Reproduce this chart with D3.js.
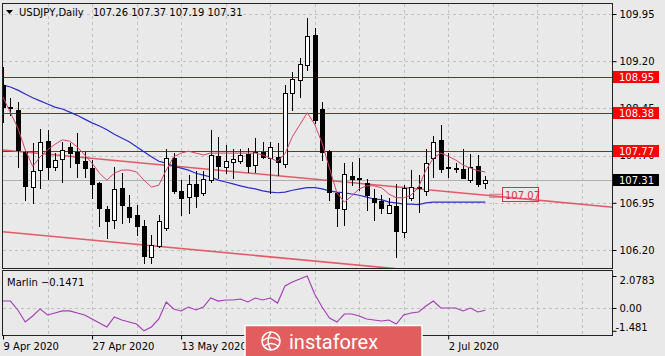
<!DOCTYPE html>
<html><head><meta charset="utf-8">
<script src="https://cdn.jsdelivr.net/npm/d3@7"></script>
<style>
body{margin:0;background:#e9e9e9;}
svg{display:block;font-family:"DejaVu Sans",sans-serif;}
</style>
</head><body>
<svg id="c" width="665" height="356"></svg>
<script>
// ---------- DATA ----------
const symbol = "USDJPY,Daily";
const opens  = [108.82,108.47,108.42,107.76,107.20,107.47,107.93,107.52,107.65,107.84,107.76,107.61,107.50,107.26,106.85,106.68,107.19,106.88,106.76,106.58,106.09,106.26,106.55,107.66,107.14,107.04,107.25,107.11,107.31,107.69,107.52,107.60,107.62,107.73,107.55,107.76,107.66,107.68,107.57,108.69,108.90,109.14,109.62,108.44,107.77,107.11,106.85,107.38,107.34,107.26,107.03,106.98,106.79,106.90,106.49,107.03,107.20,107.14,107.66,107.95,107.52,107.50,107.49,107.31,107.53,107.26];
const highs  = [109.11,108.62,108.55,107.79,107.90,108.12,108.11,107.74,107.92,107.90,108.06,107.76,107.63,107.28,106.90,107.52,107.42,107.07,106.92,106.68,106.44,106.76,107.80,107.74,107.31,107.39,107.46,107.46,108.11,108.00,107.87,107.80,107.80,107.82,107.98,107.92,107.92,107.90,108.82,109.03,109.25,109.89,109.73,108.55,107.79,107.12,107.58,107.60,107.66,107.33,107.17,107.07,107.03,107.25,107.23,107.47,107.39,107.80,108.01,108.19,107.74,107.58,107.80,107.73,107.71,107.37];
const lows   = [108.23,108.34,107.52,107.00,106.95,107.19,107.33,107.47,107.28,107.52,107.36,107.36,107.03,106.58,106.39,106.55,106.63,106.64,106.44,105.99,105.99,106.25,106.52,107.10,106.76,106.79,106.88,107.07,107.28,107.34,107.42,107.34,107.58,107.44,107.44,107.66,107.11,107.39,107.52,108.42,108.63,109.06,108.22,107.63,107.00,106.58,106.60,107.23,107.15,106.84,106.68,106.79,106.78,106.09,106.41,107.00,106.80,107.07,107.36,107.44,107.36,107.44,107.34,107.28,107.22,107.19];
const closes = [108.47,108.46,107.79,107.22,107.46,107.92,107.52,107.63,107.79,107.74,107.58,107.50,107.25,106.87,106.66,107.17,106.92,106.72,106.58,106.10,106.28,106.66,107.66,107.13,107.03,107.25,107.06,107.33,107.71,107.53,107.61,107.65,107.71,107.53,107.76,107.68,107.84,107.60,108.69,108.92,109.16,109.60,108.27,107.76,107.12,106.87,107.41,107.33,107.33,107.07,106.96,106.87,106.92,106.50,107.19,107.20,107.19,107.58,107.92,107.49,107.51,107.49,107.35,107.52,107.25,107.31];
const maFast = [108.63,108.38,108.14,107.79,107.53,107.68,107.79,107.88,107.95,107.93,107.84,107.71,107.58,107.42,107.31,107.42,107.47,107.47,107.44,107.31,107.20,107.23,107.47,107.68,107.74,107.77,107.74,107.71,107.74,107.74,107.74,107.74,107.74,107.74,107.74,107.71,107.66,107.61,107.73,108.00,108.19,108.38,108.20,107.90,107.50,107.11,106.96,107.06,107.17,107.22,107.22,107.19,107.09,107.03,107.03,107.07,107.20,107.47,107.66,107.74,107.69,107.63,107.55,107.50,107.46,107.44];
const maSlow = [108.82,108.79,108.74,108.68,108.62,108.57,108.52,108.47,108.44,108.39,108.34,108.28,108.22,108.17,108.11,108.04,107.98,107.92,107.84,107.76,107.68,107.61,107.58,107.53,107.50,107.47,107.42,107.39,107.36,107.31,107.28,107.25,107.22,107.19,107.17,107.14,107.12,107.11,107.12,107.15,107.17,107.19,107.19,107.17,107.14,107.12,107.11,107.09,107.07,107.04,107.01,107.00,106.96,106.95,106.93,106.93,106.92,106.95,106.96,106.96,106.96,106.96,106.96,106.96,106.96,106.96];
const marlin = [0.45,0.45,-0.13,-0.91,-0.52,-0.06,-0.45,-0.32,-0.19,-0.19,-0.32,-0.45,-0.71,-0.97,-1.23,-0.58,-0.78,-0.91,-1.04,-1.481,-1.23,-0.71,0.39,-0.06,-0.19,0.06,-0.13,0.06,0.65,0.45,0.52,0.52,0.58,0.39,0.65,0.52,0.65,0.32,1.43,1.69,1.88,2.0783,0.91,0.06,-0.65,-0.91,-0.39,-0.39,-0.52,-0.71,-0.78,-0.84,-0.78,-1.04,-0.45,-0.32,-0.26,0.13,0.45,0.00,0.00,0.00,-0.19,0.00,-0.26,-0.1471];
const priceTicks = [109.95,109.20,108.45,107.70,106.95,106.20];
const marlinTicks = [2.0783,0.00,-1.481];
const marlinTickLabels = ["2.0783","0.00","-1.481"];
// labels 29 May / 16 Jun sit under the watermark in the reference, so only visible ones are listed
const dateTickIdx = [0,12,24,60];
const dateTickLabels = ["9 Apr 2020","27 Apr 2020","13 May 2020","2 Jul 2020"];
const levels = [108.95,108.38,107.77];
const channelUpper = [[0,107.79],[65,107.07]];
const channelLower = [[0,106.49],[65,105.77]];
const trendLabel = "107.07";
const lastBid = 107.31;

// ---------- LAYOUT ----------
const svg = d3.select("#c");
const F = {l:2.5, r:612.5, t:3.5, b:268.5};
const I = {t:270.5, b:335.5};
const x = d3.scaleLinear().domain([0,65]).range([3,485.3]);
const y = d3.scaleLinear().domain([106.20,109.95]).range([250,14]);
const yi = d3.scaleLinear().domain([-1.481,2.0783]).range([330.8,276]);
const n = opens.length;

svg.append("rect").attr("width",665).attr("height",356).attr("fill","#e9e9e9");

const defs = svg.append("defs");
defs.append("clipPath").attr("id","cm").append("rect")
  .attr("x",F.l).attr("y",F.t).attr("width",F.r-F.l).attr("height",F.b-F.t);
defs.append("clipPath").attr("id","ci").append("rect")
  .attr("x",F.l).attr("y",I.t).attr("width",F.r-F.l).attr("height",I.b-I.t);

const gridC = "#c2c2c2";
const vIdx = d3.range(0,90,6).filter(i=>x(i)<F.r-2 && i>0);
[[F.t,F.b],[I.t,I.b]].forEach(([t,b])=>{
  svg.append("g").selectAll("line").data(vIdx).join("line")
    .attr("x1",d=>Math.round(x(d))+0.5).attr("x2",d=>Math.round(x(d))+0.5)
    .attr("y1",t).attr("y2",b)
    .attr("stroke",gridC).attr("stroke-dasharray","3,3").attr("shape-rendering","crispEdges");
});
svg.append("g").selectAll("line").data(priceTicks).join("line")
  .attr("x1",F.l).attr("x2",F.r).attr("y1",d=>Math.round(y(d))+0.5).attr("y2",d=>Math.round(y(d))+0.5)
  .attr("stroke",gridC).attr("stroke-dasharray","3,3").attr("shape-rendering","crispEdges");
svg.append("line").attr("x1",F.l).attr("x2",F.r).attr("y1",Math.round(yi(0))+0.5).attr("y2",Math.round(yi(0))+0.5)
  .attr("stroke",gridC).attr("stroke-dasharray","3,3").attr("shape-rendering","crispEdges");

const main = svg.append("g").attr("clip-path","url(#cm)");

main.append("line").attr("x1",F.l).attr("x2",F.r)
  .attr("y1",Math.round(y(lastBid))+0.5).attr("y2",Math.round(y(lastBid))+0.5)
  .attr("stroke","#b0b0b0").attr("shape-rendering","crispEdges");

main.selectAll(".lvl").data(levels).join("line")
  .attr("x1",F.l).attr("x2",F.r).attr("y1",d=>Math.round(y(d))+0.5).attr("y2",d=>Math.round(y(d))+0.5)
  .attr("stroke","#e00000").attr("stroke-width",1.2);

function chan(a){
  const [[b0,p0],[b1,p1]] = a;
  const s = (p1-p0)/(b1-b0);
  const bEnd = 90;
  return [[x(b0),y(p0)],[x(bEnd),y(p0+s*(bEnd-b0))]];
}
[channelUpper, channelLower].forEach(c=>{
  main.append("path").attr("d",d3.line()(chan(c)))
    .attr("stroke","#e24a5a").attr("stroke-width",1.6).attr("fill","none").attr("opacity",0.9);
});

main.append("path").datum(maSlow)
  .attr("d",d3.line().x((d,i)=>x(i)).y(d=>y(d)))
  .attr("fill","none").attr("stroke","#2c2cc8").attr("stroke-width",1.2);

const cg = main.append("g").attr("shape-rendering","crispEdges");
for(let i=0;i<n;i++){
  const cx = Math.round(x(i))+0.5;
  cg.append("line").attr("x1",cx).attr("x2",cx)
    .attr("y1",Math.round(y(highs[i]))).attr("y2",Math.round(y(lows[i]))+1)
    .attr("stroke","#000");
  const top = Math.round(y(Math.max(opens[i],closes[i])));
  const bot = Math.round(y(Math.min(opens[i],closes[i])));
  const bull = closes[i]>=opens[i];
  if(bot-top<1){
    cg.append("line").attr("x1",cx-2.5).attr("x2",cx+2.5).attr("y1",top+0.5).attr("y2",top+0.5).attr("stroke","#000");
  } else {
    cg.append("rect").attr("x",cx-2).attr("y",top+0.5).attr("width",4).attr("height",bot-top)
      .attr("fill",bull?"#fff":"#000").attr("stroke","#000");
  }
}

main.append("path").datum(maFast)
  .attr("d",d3.line().x((d,i)=>x(i)).y(d=>y(d)))
  .attr("fill","none").attr("stroke","#d2466a").attr("stroke-width",1);

const ty = y(+trendLabel);
svg.append("line").attr("x1",489).attr("x2",502).attr("y1",ty-1).attr("y2",ty-1).attr("stroke","#e07080");
svg.append("line").attr("x1",489).attr("x2",502).attr("y1",ty+2).attr("y2",ty+2).attr("stroke","#e07080");
svg.append("rect").attr("x",502.5).attr("y",Math.round(ty)-7.5).attr("width",36).attr("height",14)
  .attr("fill","none").attr("stroke","#e03040");
svg.append("text").attr("x",505).attr("y",Math.round(ty)+4).attr("font-size",10).attr("fill","#e03040").text(trendLabel);

svg.append("rect").attr("x",F.l).attr("y",F.t).attr("width",F.r-F.l).attr("height",F.b-F.t)
  .attr("fill","none").attr("stroke","#222").attr("shape-rendering","crispEdges");
svg.append("rect").attr("x",F.l).attr("y",I.t).attr("width",F.r-F.l).attr("height",I.b-I.t)
  .attr("fill","none").attr("stroke","#222").attr("shape-rendering","crispEdges");

const ax = svg.append("g").attr("transform",`translate(${F.r},0)`)
  .call(d3.axisRight(y).tickValues(priceTicks).tickSize(4).tickPadding(3).tickFormat(d3.format(".2f")));
ax.select(".domain").remove();
ax.selectAll("text").attr("font-size",10).attr("fill","#000").attr("font-family","DejaVu Sans");
ax.selectAll("line").attr("stroke","#000");

levels.forEach(l=>{
  const yy = Math.round(y(l));
  svg.append("rect").attr("x",613).attr("y",yy-6).attr("width",46).attr("height",12).attr("fill","#ff0000");
  svg.append("text").attr("x",619).attr("y",yy+4).attr("font-size",10).attr("fill","#fff").text(d3.format(".2f")(l));
});
{
  const yy = Math.round(y(lastBid));
  svg.append("rect").attr("x",613).attr("y",yy-6).attr("width",46).attr("height",12).attr("fill","#000");
  svg.append("text").attr("x",619).attr("y",yy+4).attr("font-size",10).attr("fill","#fff").text(d3.format(".2f")(lastBid));
}

const ig = svg.append("g").attr("clip-path","url(#ci)");
ig.append("path").datum(marlin)
  .attr("d",d3.line().x((d,i)=>x(i)).y(d=>yi(d)))
  .attr("fill","none").attr("stroke","#a23cb4").attr("stroke-width",1.1);
svg.append("text").attr("x",7).attr("y",286).attr("font-size",10).attr("fill","#000")
  .text("Marlin " + d3.format(".4f")(marlin[n-1]));
const iax = svg.append("g").attr("transform",`translate(${F.r},0)`)
  .call(d3.axisRight(yi).tickValues(marlinTicks).tickSize(4).tickPadding(3).tickFormat((d,i)=>marlinTickLabels[i]));
iax.select(".domain").remove();
iax.selectAll("text").attr("font-size",10).attr("fill","#000").attr("font-family","DejaVu Sans")
  .attr("dy",(d,i)=> i===0 ? "0.75em" : (i===2 ? "0em" : "0.32em"))
  .attr("dx",(d,i)=> i===2 ? -4 : 0);
iax.selectAll("line").attr("stroke","#000");

const dax = svg.append("g").attr("transform",`translate(0,${I.b})`)
  .call(d3.axisBottom(x).tickValues(dateTickIdx).tickSize(4).tickPadding(3).tickFormat((d,i)=>dateTickLabels[i]));
dax.select(".domain").remove();
dax.selectAll("text").attr("font-size",10).attr("fill","#000").attr("text-anchor","start").attr("font-family","DejaVu Sans");
dax.selectAll("line").attr("stroke","#000");

svg.append("path").attr("d","M6,10 L13,10 L9.5,14 Z").attr("fill","#000");
svg.append("text").attr("x",19).attr("y",16).attr("font-size",10).attr("fill","#000").text(symbol);
svg.append("text").attr("x",93).attr("y",16).attr("font-size",10).attr("fill","#000")
  .attr("xml:space","preserve")
  .text([opens[n-1],highs[n-1],lows[n-1],closes[n-1]].map(d3.format(".2f")).join(" "));

const lg = svg.append("g");
lg.append("rect").attr("x",245).attr("y",325.5).attr("width",177).attr("height",32)
  .attr("fill","#e25e5e").attr("stroke","#fff").attr("stroke-width",1.5);
const cx0=271, cy0=341;
lg.append("circle").attr("cx",cx0).attr("cy",cy0).attr("r",9).attr("fill","none").attr("stroke","#fff").attr("stroke-width",1.6);
lg.append("path").attr("d",`M${cx0-9},${cy0} Q${cx0},${cy0-7} ${cx0+9},${cy0}`).attr("fill","none").attr("stroke","#fff").attr("stroke-width",1.4);
lg.append("path").attr("d",`M${cx0-7},${cy0+5} Q${cx0},${cy0} ${cx0+7},${cy0+5}`).attr("fill","none").attr("stroke","#fff").attr("stroke-width",1.4);
lg.append("path").attr("d",`M${cx0},${cy0-9} Q${cx0-6},${cy0} ${cx0},${cy0+9}`).attr("fill","none").attr("stroke","#fff").attr("stroke-width",1.4);
lg.append("text").attr("x",289).attr("y",349).attr("font-family","Roboto, 'Open Sans', sans-serif")
  .attr("font-size",20).attr("fill","#fff").text("instaforex");
</script>
</body></html>
